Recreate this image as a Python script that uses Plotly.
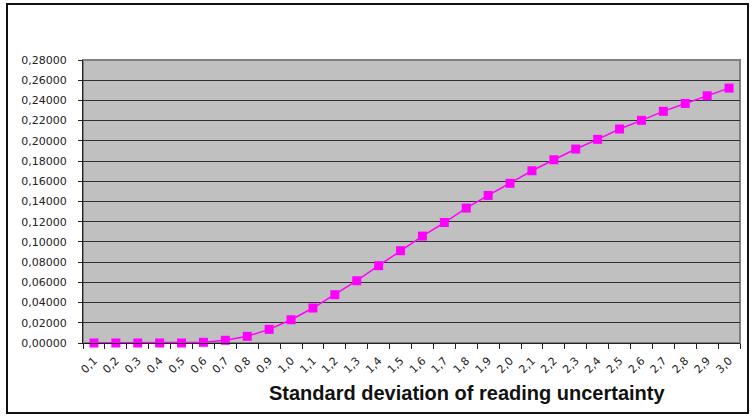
import plotly.graph_objects as go

categories = ["0,1","0,2","0,3","0,4","0,5","0,6","0,7","0,8","0,9","1,0",
              "1,1","1,2","1,3","1,4","1,5","1,6","1,7","1,8","1,9","2,0",
              "2,1","2,2","2,3","2,4","2,5","2,6","2,7","2,8","2,9","3,0"]
values = [0.0, 0.0, 0.0, 0.0, 0.0, 0.0007, 0.0027, 0.0066, 0.0135, 0.0230,
          0.0346, 0.0478, 0.0616, 0.0765, 0.0913, 0.1058, 0.1192, 0.1335, 0.1460, 0.1580,
          0.1704, 0.1813, 0.1919, 0.2015, 0.2117, 0.2203, 0.2292, 0.2370, 0.2446, 0.2522]
x_title = "Standard deviation of reading uncertainty"

W, H = 752, 416
L, R, T, B = 83, 12, 60, 73
pw, ph = W - L - R, H - T - B

def px_x(p):
    return (p - L) / pw

def px_y(p):
    return (H - B - p) / ph

fig = go.Figure()
fig.add_trace(go.Scatter(
    x=categories, y=values, mode="lines+markers",
    line=dict(color="#FF00FF", width=1.5),
    marker=dict(symbol="square", size=9, color="#FF00FF"),
    cliponaxis=False, showlegend=False,
))

tick_font = dict(family="DejaVu Sans, Verdana, sans-serif", size=11, color="#222")

fig.update_layout(
    width=W, height=H,
    margin=dict(l=L, r=R, t=T, b=B, pad=0, autoexpand=False),
    paper_bgcolor="white", plot_bgcolor="#C0C0C0",
    separators=",.",
    font=dict(family="Liberation Sans, Arial, sans-serif", size=11, color="#222"),
    xaxis=dict(
        type="category", range=[-0.5, 29.5], automargin=False,
        showgrid=False, zeroline=False,
        showline=True, linecolor="#222", linewidth=1,
        ticks="outside", tickson="boundaries", ticklen=5, tickcolor="#222",
        tickangle=-45, tickfont=tick_font, ticklabelstandoff=6,
    ),
    yaxis=dict(
        range=[0, 0.28], dtick=0.02, tickformat=".5f", automargin=False,
        showgrid=True, gridcolor="#303030", gridwidth=1,
        zeroline=False,
        showline=True, linecolor="#222", linewidth=1,
        ticks="outside", ticklen=4, tickcolor="#222",
        ticklabelstandoff=9,
        tickfont=tick_font,
    ),
    shapes=[
        dict(type="rect", xref="x domain", yref="y domain", x0=0, x1=1, y0=0, y1=1,
             line=dict(color="#808080", width=2), layer="below"),
        dict(type="rect", xref="paper", yref="paper",
             x0=px_x(7), x1=px_x(748), y0=px_y(413), y1=px_y(4),
             line=dict(color="#111", width=2)),
    ],
    annotations=[
        dict(text="<b>" + x_title + "</b>", xref="paper", yref="paper",
             x=px_x(467), y=px_y(393), xanchor="center", yanchor="middle",
             showarrow=False, font=dict(size=20, color="#111",
             family="Liberation Sans, Arial, sans-serif")),
    ],
)

fig.write_html("out.html", config={"displayModeBar": False},
               post_script="document.body.style.margin='0';document.body.style.overflow='hidden';")
